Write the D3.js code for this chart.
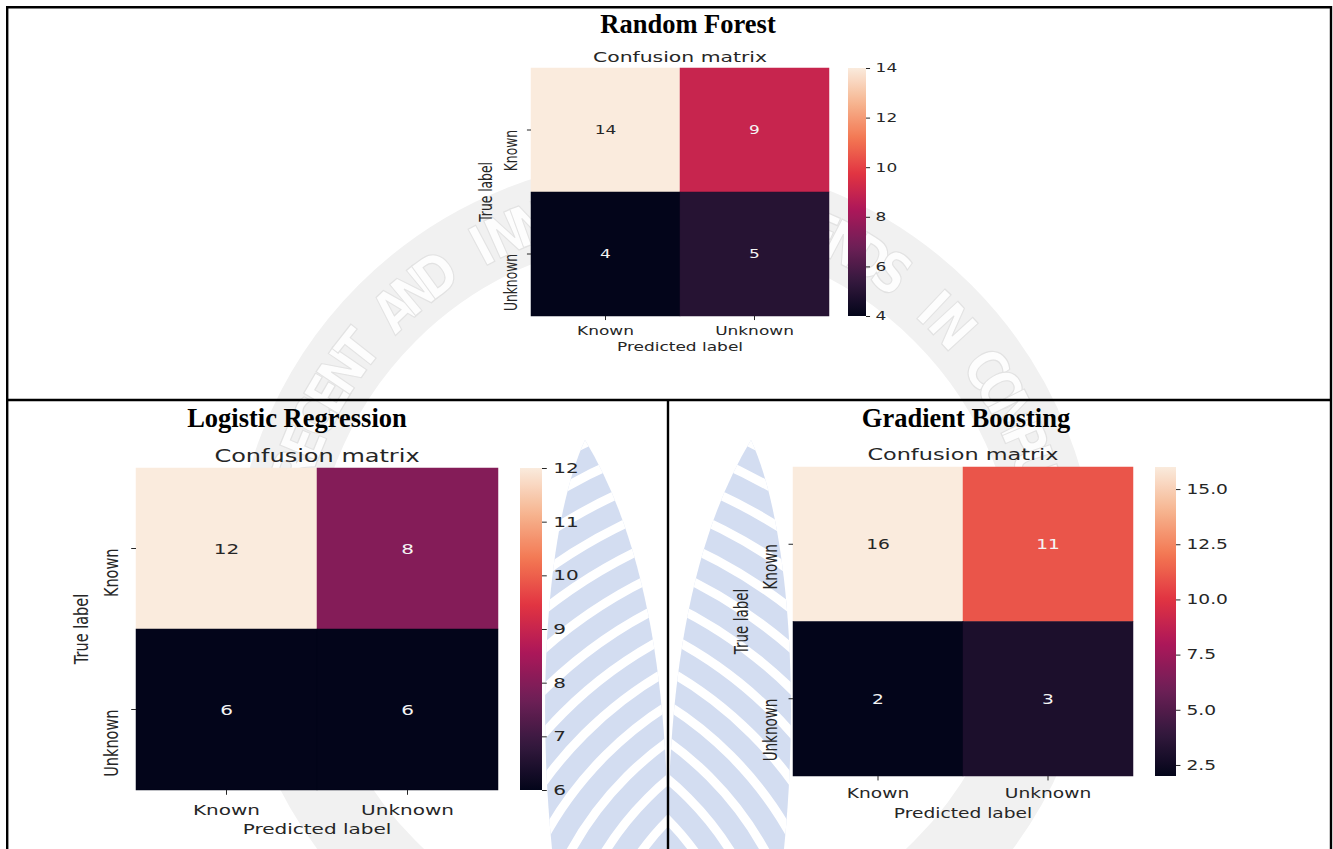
<!DOCTYPE html>
<html>
<head>
<meta charset="utf-8">
<script src="https://cdn.jsdelivr.net/npm/d3@7"></script>
<style>
  html, body { margin: 0; padding: 0; background: #fff; }
  svg { display: block; }
</style>
</head>
<body>
<svg id="fig" width="1333" height="849"></svg>
<script>
// ---- data ----
const classLabels = ["Known", "Unknown"];
const rfMatrix = [[14, 9], [4, 5]];
const lrMatrix = [[12, 8], [6, 6]];
const gbMatrix = [[16, 11], [2, 3]];
const rfTicks = [4, 6, 8, 10, 12, 14];
const lrTicks = [6, 7, 8, 9, 10, 11, 12];
const gbTicks = [2.5, 5.0, 7.5, 10.0, 12.5, 15.0];
const modelNames = ["Random Forest", "Logistic Regression", "Gradient Boosting"];
const plotTitle = "Confusion matrix";
const xAxisTitle = "Predicted label";
const yAxisTitle = "True label";
const watermarkText = "RECENT AND INNOVATION TRENDS IN COMPUTING";

// seaborn "rocket" colormap anchor colours
const rocketStops = ["#03051a", "#35193e", "#701f57", "#ad1759", "#e13342", "#f37651", "#f6b48f", "#faebdd"];

const ink = "#262626";
const W = 1333, H = 849;

const svg = d3.select("#fig");
const defs = svg.append("defs");
svg.append("rect").attr("width", W).attr("height", H).attr("fill", "#fff");

// ---- faint journal logo in the background ----
const wm = svg.append("g").attr("class", "watermark").attr("pointer-events", "none");
const wmCx = 665, wmCy = 591, wmR = 371;

function leaf(g, k) {
  const clipId = "leafclip" + k;
  const shape = "M668,849 C668,690 648,545 585,440 C548,520 536,690 552,849 Z";
  defs.append("clipPath").attr("id", clipId).append("path").attr("d", shape);
  g.append("path").attr("d", shape).attr("fill", "#d3ddf1");
  const stripes = g.append("g").attr("clip-path", `url(#${clipId})`);
  d3.range(120, 700, 30).forEach(r => {
    stripes.append("circle").attr("cx", 860).attr("cy", 1010).attr("r", r)
      .attr("fill", "none").attr("stroke", "#fff").attr("stroke-width", 9);
  });
}
leaf(wm.append("g"), 0);
leaf(wm.append("g").attr("transform", "translate(1336,0) scale(-1,1)"), 1);

wm.append("circle").attr("cx", wmCx).attr("cy", wmCy).attr("r", wmR + 22)
  .attr("fill", "none").attr("stroke", "#f1f1f1").attr("stroke-width", 80);

// ring lettering, one glyph at a time along the circle (clockwise over the top)
const wmStart = 689, wmStep = 1053 / watermarkText.length;
wm.append("g")
  .attr("font-family", "'DejaVu Sans', sans-serif")
  .attr("font-weight", "bold")
  .attr("font-size", 56)
  .attr("fill", "#fdfdfd")
  .attr("stroke", "#e2e2e2").attr("stroke-width", 1.2)
  .selectAll("text")
  .data(watermarkText.split("").map((ch, i) => ({ ch, s: wmStart + (i + 0.5) * wmStep })).filter(d => d.ch !== " "))
  .join("text")
  .attr("text-anchor", "middle")
  .attr("transform", d => {
    const a = Math.PI / 2 + d.s / wmR;
    const px = wmCx + wmR * Math.cos(a), py = wmCy + wmR * Math.sin(a);
    return `translate(${px},${py}) rotate(${(a + Math.PI / 2) * 180 / Math.PI}) scale(0.82,1)`;
  })
  .text(d => d.ch);

// ---- table frame ----
const frame = svg.append("g").attr("stroke", "#000").attr("stroke-width", 2.4).attr("fill", "none");
frame.append("path").attr("d", "M7.2,849 V7.2 H1331 V849");
frame.append("line").attr("x1", 7).attr("y1", 400).attr("x2", 1331).attr("y2", 400);
frame.append("line").attr("x1", 668).attr("y1", 400).attr("x2", 668).attr("y2", 849);

// ---- panel layouts ----
const panels = [
  { name: modelNames[0], matrix: rfMatrix, ticks: rfTicks, fmt: d3.format("d"),
    nameX: 688, nameBase: 33,
    left: 531, top: 68, width: 298, height: 248, cbLeft: 848, cbWidth: 18,
    fs: 12.3, kx: 1.38, titleBase: 62, ylabGap: 14, yTitleX: 492, xlabBase: 19, xTitleBase: 351 },
  { name: modelNames[1], matrix: lrMatrix, ticks: lrTicks, fmt: d3.format("d"),
    nameX: 297, nameBase: 427,
    left: 136, top: 468, width: 362, height: 322, cbLeft: 520, cbWidth: 22,
    fs: 14.5, kx: 1.38, titleBase: 462, ylabGap: 18, yTitleX: 88, xlabBase: 25, xTitleBase: 834 },
  { name: modelNames[2], matrix: gbMatrix, ticks: gbTicks, fmt: d3.format(".1f"),
    nameX: 966, nameBase: 427,
    left: 793, top: 467, width: 340, height: 309, cbLeft: 1155, cbWidth: 21,
    fs: 13.5, kx: 1.38, titleBase: 460, ylabGap: 16, yTitleX: 748, xlabBase: 22, xTitleBase: 818 }
];

function luminance(c) {
  const rgb = d3.rgb(c);
  const lin = v => { v /= 255; return v <= 0.03928 ? v / 12.92 : Math.pow((v + 0.055) / 1.055, 2.4); };
  return 0.2126 * lin(rgb.r) + 0.7152 * lin(rgb.g) + 0.0722 * lin(rgb.b);
}

function drawPanel(p, idx) {
  // model heading
  svg.append("text")
    .attr("x", p.nameX).attr("y", p.nameBase)
    .attr("text-anchor", "middle")
    .attr("font-family", "'Liberation Serif', 'Times New Roman', serif")
    .attr("font-weight", "bold").attr("font-size", 26.5).attr("fill", "#000")
    .text(p.name);

  const g = svg.append("g").attr("font-family", "'DejaVu Sans', sans-serif").attr("fill", ink);
  const x = d3.scaleBand().domain(classLabels).range([p.left, p.left + p.width]);
  const y = d3.scaleBand().domain(classLabels).range([p.top, p.top + p.height]);
  const vals = p.matrix.flat();
  const lo = d3.min(vals), hi = d3.max(vals);
  const color = d3.scaleLinear()
    .domain(rocketStops.map((_, i) => lo + (hi - lo) * i / (rocketStops.length - 1)))
    .range(rocketStops).interpolate(d3.interpolateRgb).clamp(true);

  const cells = p.matrix.flatMap((row, i) => row.map((v, j) => ({ r: classLabels[i], c: classLabels[j], v })));

  g.selectAll("rect.cell").data(cells).join("rect").attr("class", "cell")
    .attr("x", d => x(d.c)).attr("y", d => y(d.r))
    .attr("width", x.bandwidth()).attr("height", y.bandwidth())
    .attr("fill", d => color(d.v))
    .attr("stroke", d => color(d.v)).attr("stroke-width", 0.5);

  g.selectAll("text.annot").data(cells).join("text").attr("class", "annot")
    .attr("transform", d => `translate(${x(d.c) + x.bandwidth() / 2},${y(d.r) + y.bandwidth() / 2}) scale(${p.kx},1)`)
    .attr("text-anchor", "middle").attr("dy", "0.36em").attr("font-size", p.fs)
    .attr("fill", d => luminance(color(d.v)) > 0.408 ? ink : "#f4f4f4")
    .text(d => d.v);

  const tl = p.fs * 0.33;

  // y axis (true label)
  const yAx = g.append("g").attr("transform", `translate(${p.left},0)`)
    .call(d3.axisLeft(y).tickSize(tl).tickSizeOuter(0));
  yAx.attr("font-size", null).attr("font-family", null);
  yAx.select(".domain").remove();
  yAx.selectAll("line").attr("stroke", ink);
  yAx.selectAll("text")
    .attr("x", 0).attr("dy", null).attr("fill", ink).attr("font-size", p.fs)
    .attr("text-anchor", "end")
    .attr("transform", `translate(${-p.ylabGap},0) scale(${p.kx},1) rotate(-90)`);

  // x axis (predicted label)
  const xAx = g.append("g").attr("transform", `translate(0,${p.top + p.height})`)
    .call(d3.axisBottom(x).tickSize(tl).tickSizeOuter(0));
  xAx.attr("font-size", null).attr("font-family", null);
  xAx.select(".domain").remove();
  xAx.selectAll("line").attr("stroke", ink);
  xAx.selectAll("text")
    .attr("y", 0).attr("dy", null).attr("fill", ink).attr("font-size", p.fs)
    .attr("transform", `translate(0,${p.xlabBase}) scale(${p.kx},1)`);

  // titles
  g.append("text")
    .attr("transform", `translate(${p.left + p.width / 2},${p.titleBase}) scale(${p.kx},1)`)
    .attr("text-anchor", "middle").attr("font-size", p.fs * 1.2).text(plotTitle);
  g.append("text")
    .attr("transform", `translate(${p.left + p.width / 2},${p.xTitleBase}) scale(${p.kx},1)`)
    .attr("text-anchor", "middle").attr("font-size", p.fs).text(xAxisTitle);
  g.append("text")
    .attr("transform", `translate(${p.yTitleX},${p.top + p.height / 2}) scale(${p.kx},1) rotate(-90)`)
    .attr("text-anchor", "middle").attr("font-size", p.fs).text(yAxisTitle);

  // colour bar
  const cy = d3.scaleLinear().domain([lo, hi]).range([p.top + p.height, p.top]);
  const gradId = "cbar" + idx;
  const grad = defs.append("linearGradient").attr("id", gradId)
    .attr("x1", 0).attr("y1", 1).attr("x2", 0).attr("y2", 0);
  d3.range(0, 1.0001, 1 / 40).forEach(t => {
    grad.append("stop").attr("offset", t).attr("stop-color", color(lo + (hi - lo) * t));
  });
  g.append("rect")
    .attr("x", p.cbLeft).attr("y", p.top).attr("width", p.cbWidth).attr("height", p.height)
    .attr("fill", `url(#${gradId})`);
  const cbAx = g.append("g").attr("transform", `translate(${p.cbLeft + p.cbWidth},0)`)
    .call(d3.axisRight(cy).tickValues(p.ticks).tickFormat(p.fmt).tickSize(tl));
  cbAx.attr("font-size", null).attr("font-family", null);
  cbAx.select(".domain").remove();
  cbAx.selectAll("line").attr("stroke", ink);
  cbAx.selectAll("text")
    .attr("x", 0).attr("fill", ink).attr("font-size", p.fs)
    .attr("transform", `translate(${tl + p.fs * 0.45},0) scale(${p.kx},1)`);
}

panels.forEach(drawPanel);
</script>
</body>
</html>
